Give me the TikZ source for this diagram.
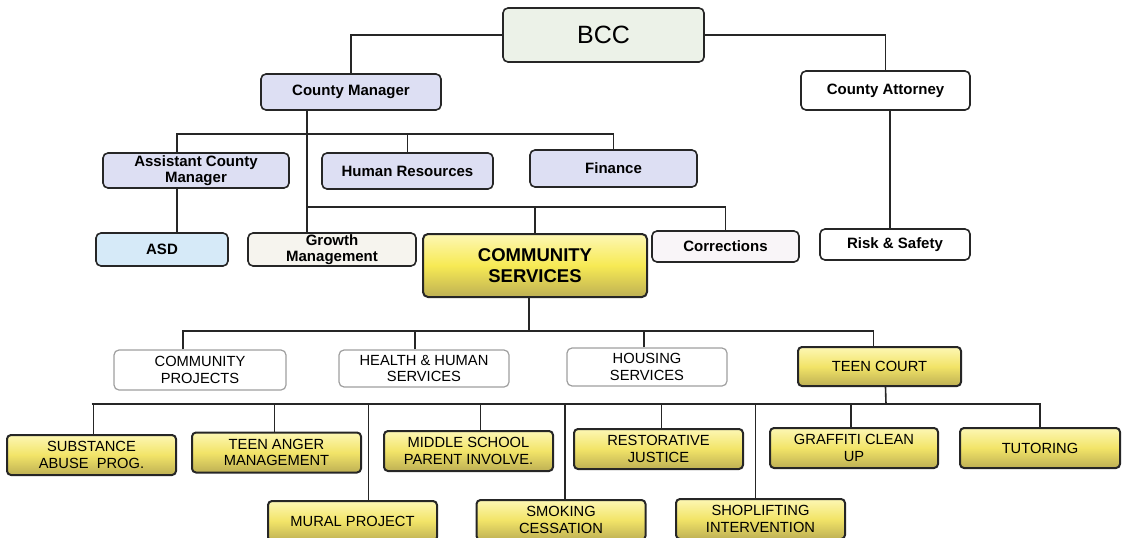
\documentclass[tikz,border=0pt]{standalone}
\usepackage{fontspec}
\setmainfont{Liberation Sans}
\usepackage{xcolor}
\definecolor{boardgreen}{RGB}{236,242,232}
\definecolor{mgrlilac}{RGB}{221,223,243}
\definecolor{asdblue}{RGB}{214,234,248}
\definecolor{growthcream}{RGB}{246,244,238}
\definecolor{corrpink}{RGB}{249,245,248}
\definecolor{goldlight}{RGB}{253,247,180}
\definecolor{goldmid}{RGB}{242,228,104}
\definecolor{golddark}{RGB}{190,176,84}
\definecolor{csyellow}{RGB}{247,234,84}
\definecolor{linegray}{RGB}{38,38,38}

\begin{document}
\begin{tikzpicture}[x=1pt,y=-1pt,
    box/.style={draw=linegray,line width=1.6pt,rounded corners=5pt,inner sep=0pt,
      align=center,font=\bfseries\fontsize{15}{16}\selectfont},
    sz/.style 2 args={minimum width=#1pt,minimum height=#2pt},
    dept/.style={box,draw=gray!75,line width=1.2pt,fill=white,
      font=\fontsize{14.7}{16.5}\selectfont},
    gold/.style={box,draw=black!85,line width=2pt,rounded corners=4pt,
      top color=goldlight,bottom color=golddark,middle color=goldmid,
      font=\fontsize{14.7}{16.5}\selectfont,sz={169}{40}},
    link/.style={draw=linegray,line width=1.6pt}]
  \useasboundingbox (0,0) rectangle (1122,538);

  % board and its two appointees
  \node[box,sz={201}{54},fill=boardgreen,font=\fontsize{25}{28}\selectfont] (bcc) at (603.5,35) {BCC};
  \node[box,sz={180}{36},fill=mgrlilac] (cm) at (351,92) {County Manager};
  \node[box,sz={169}{39},fill=white] (ca) at (885.5,90.5) {County Attorney};

  % county manager staff
  \node[box,sz={186}{35},fill=mgrlilac] (acm) at (196,170.5) {Assistant County\\Manager};
  \node[box,sz={171}{36},fill=mgrlilac] (hr) at (407.5,171) {Human Resources};
  \node[box,sz={167}{37},fill=mgrlilac] (fin) at (613.5,168.5) {Finance};

  % departments
  \node[box,sz={132}{33},fill=asdblue] (asd) at (162,249.5) {ASD};
  \node[box,sz={168}{33},fill=growthcream] (gm) at (332,249.5) {Growth\\Management};
  \node[box,sz={224}{63},line width=2pt,top color=goldlight,bottom color=golddark,middle color=csyellow,
    font=\bfseries\fontsize{18.5}{21}\selectfont] (cs) at (535,265.5) {COMMUNITY\\SERVICES};
  \node[box,sz={147}{31},fill=corrpink] (cor) at (725.5,246.5) {Corrections};
  \node[box,sz={150}{31},fill=white] (rs) at (895,244.5) {Risk \& Safety};

  % community services divisions
  \node[dept,sz={172}{40}] (cp) at (200,370) {COMMUNITY\\PROJECTS};
  \node[dept,sz={170}{37}] (hhs) at (424,368.5) {HEALTH \& HUMAN\\SERVICES};
  \node[dept,sz={160}{38}] (hs) at (647,367) {HOUSING\\SERVICES};
  \node[gold,sz={163}{39}] (tc) at (879.5,366.5) {TEEN COURT};

  % teen court programs
  \node[gold] (sub) at (91.5,455) {SUBSTANCE\\ABUSE\ \ PROG.};
  \node[gold] (tam) at (276.5,452.5) {TEEN ANGER\\MANAGEMENT};
  \node[gold] (msp) at (468.5,451) {MIDDLE SCHOOL\\PARENT INVOLVE.};
  \node[gold] (rj) at (658.5,449) {RESTORATIVE\\JUSTICE};
  \node[gold,sz={168}{40}] (gcu) at (854,448) {GRAFFITI CLEAN\\UP};
  \node[gold,sz={160}{40}] (tut) at (1040,448) {TUTORING};
  \node[gold] (mur) at (352.5,521) {MURAL PROJECT};
  \node[gold] (smk) at (561,520) {SMOKING\\CESSATION};
  \node[gold] (sho) at (760.5,519) {SHOPLIFTING\\INTERVENTION};

  % bus junctions
  \coordinate (busA) at (307,134);
  \coordinate (busB) at (307,207);
  \coordinate (busC) at (529,331);
  \coordinate (busD) at (886,404);

  % top links
  \draw[link] (bcc.west) -| (cm.north);
  \draw[link] (bcc.east) -| (ca.north);
  \draw[link] ([xshift=4.5pt]ca.south) -- ([xshift=-5pt]rs.north);

  % county manager down through both buses
  \draw[link] ([xshift=-44pt]cm.south) -- ([xshift=-25pt]gm.north);
  \draw[link] ([xshift=-19pt]acm.north) |- (busA) -| (fin.north);
  \draw[link] (hr.north) -- (hr.north |- busA);
  \draw[link] ([xshift=-19pt]acm.south) -- ([xshift=15pt]asd.north);
  \draw[link] (busB) -| (cor.north);
  \draw[link] (cs.north) |- (busB);

  % community services divisions
  \draw[link] ([xshift=-6pt]cs.south) -- (busC);
  \draw[link] ([xshift=-17pt]cp.north) |- (busC) -| ([xshift=-6pt]tc.north);
  \draw[link] ([xshift=-9pt]hhs.north) |- (busC);
  \draw[link] ([xshift=-3pt]hs.north) |- (busC);

  % teen court programs
  \draw[link] ([xshift=6pt]tc.south) -- (busD);
  \draw[link] (sub.north |- busD) -- (tut.north |- busD);
  \foreach \prog/\dx in {sub/2,tam/-2,mur/16,msp/12,smk/4,rj/3,sho/-5,gcu/-3,tut/0}
    \draw[link] ([xshift=\dx pt]\prog.north) |- (busD);
\end{tikzpicture}
\end{document}
